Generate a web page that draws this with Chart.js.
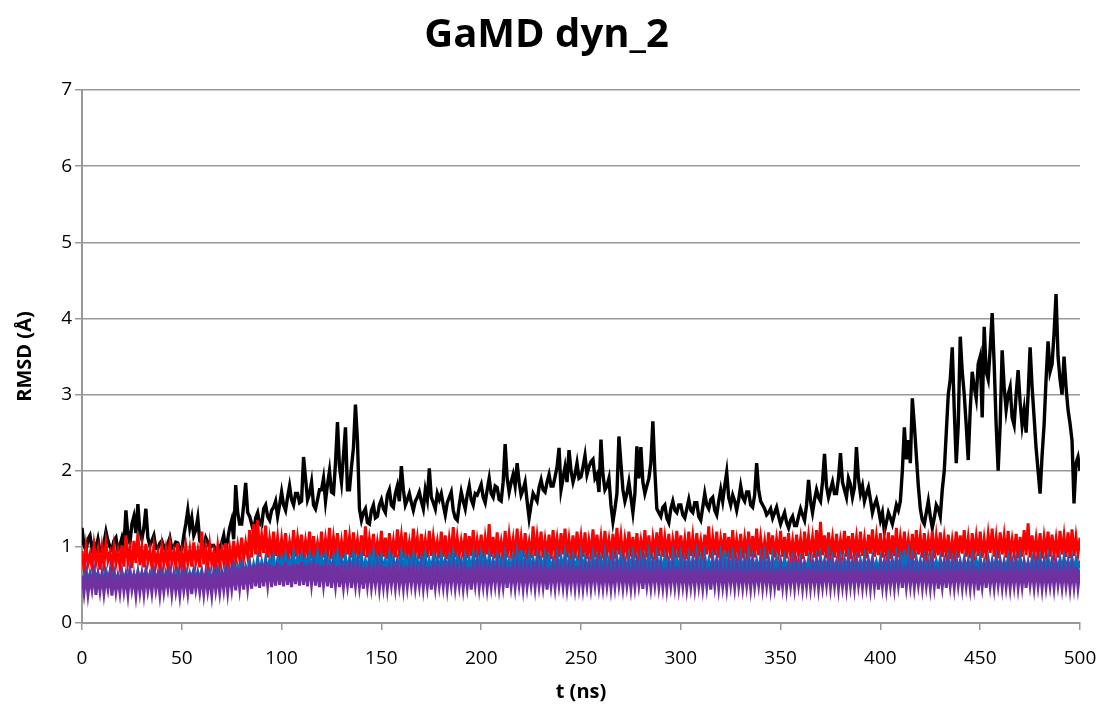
<!DOCTYPE html>
<html>
<head>
<meta charset="utf-8">
<title>GaMD dyn_2</title>
<script src="https://cdn.jsdelivr.net/npm/chart.js@4.4.1/dist/chart.umd.min.js"></script>
<style>
  html, body { margin: 0; padding: 0; background: #fff; }
  #wrap { width: 1102px; height: 709px; }
</style>
</head>
<body>
<div id="wrap"><canvas id="rmsdChart" width="1102" height="709"></canvas></div>
<script>
// RMSD traces (Å), one frame per ns from 0 to 500 ns
const rmsdBlack = [
  1.25, 1.02, 0.95, 1.10, 1.15, 0.98, 1.05, 0.98, 1.10, 0.94,
  0.92, 1.05, 1.20, 1.08, 1.00, 0.96, 1.08, 1.12, 0.95, 1.02,
  1.12, 1.00, 1.48, 1.15, 1.05, 1.30, 1.40, 1.18, 1.56, 1.20,
  1.10, 1.25, 1.50, 1.12, 1.02, 1.08, 1.15, 0.98, 0.98, 1.05,
  1.08, 1.00, 0.95, 1.04, 1.12, 0.98, 1.00, 1.06, 1.05, 0.96,
  0.96, 1.15, 1.30, 1.48, 1.25, 1.38, 1.15, 1.22, 1.38, 1.08,
  1.05, 1.00, 1.12, 1.06, 0.98, 1.02, 1.02, 0.94, 0.92, 1.00,
  1.05, 1.15, 0.95, 1.10, 1.25, 1.35, 1.10, 1.81, 1.45, 1.30,
  1.30, 1.55, 1.84, 1.45, 1.40, 1.30, 1.20, 1.38, 1.45, 1.30,
  1.28, 1.50, 1.55, 1.40, 1.35, 1.48, 1.52, 1.60, 1.40, 1.55,
  1.72, 1.55, 1.48, 1.65, 1.80, 1.62, 1.55, 1.70, 1.70, 1.58,
  1.60, 2.18, 1.90, 1.62, 1.70, 1.85, 1.55, 1.50, 1.62, 1.75,
  1.75, 1.90, 1.60, 1.82, 2.00, 1.72, 1.70, 2.10, 2.64, 2.05,
  1.85, 2.20, 2.57, 1.75, 1.75, 2.05, 2.30, 2.87, 2.40, 1.50,
  1.35, 1.45, 1.50, 1.32, 1.30, 1.48, 1.55, 1.38, 1.40, 1.55,
  1.62, 1.50, 1.45, 1.68, 1.75, 1.55, 1.52, 1.70, 1.80, 1.60,
  2.06, 1.75, 1.55, 1.62, 1.70, 1.58, 1.48, 1.60, 1.65, 1.72,
  1.60, 1.50, 1.75, 1.62, 2.03, 1.65, 1.58, 1.50, 1.70, 1.62,
  1.70, 1.55, 1.42, 1.58, 1.65, 1.72, 1.48, 1.38, 1.35, 1.55,
  1.72, 1.60, 1.50, 1.68, 1.80, 1.62, 1.55, 1.70, 1.68, 1.75,
  1.82, 1.65, 1.58, 1.75, 1.90, 1.70, 1.65, 1.80, 1.78, 1.62,
  1.60, 1.85, 2.35, 1.90, 1.72, 1.85, 1.95, 1.80, 2.10, 1.85,
  1.68, 1.75, 1.85, 1.60, 1.38, 1.55, 1.70, 1.65, 1.60, 1.78,
  1.88, 1.75, 1.72, 1.85, 1.95, 1.80, 1.80, 1.92, 2.05, 2.30,
  1.75, 1.90, 2.05, 1.85, 2.27, 2.00, 1.85, 1.95, 2.10, 1.90,
  1.92, 2.05, 2.20, 1.95, 2.05, 2.12, 2.15, 1.90, 1.95, 1.72,
  2.41, 1.95, 1.75, 1.80, 1.90, 1.55, 1.33, 1.50, 1.70, 2.45,
  2.10, 1.75, 1.60, 1.70, 1.85, 1.65, 1.45, 1.70, 2.32, 1.90,
  2.31, 1.85, 1.70, 1.80, 1.90, 2.10, 2.65, 2.00, 1.50, 1.45,
  1.40, 1.52, 1.55, 1.38, 1.32, 1.50, 1.60, 1.48, 1.45, 1.55,
  1.55, 1.42, 1.38, 1.50, 1.62, 1.48, 1.45, 1.58, 1.58, 1.40,
  1.35, 1.52, 1.70, 1.55, 1.50, 1.62, 1.65, 1.48, 1.42, 1.60,
  1.75, 1.60, 1.80, 1.98, 1.65, 1.55, 1.68, 1.60, 1.48, 1.62,
  1.80, 1.65, 1.60, 1.72, 1.72, 1.55, 1.52, 1.68, 2.10, 1.75,
  1.60, 1.55, 1.50, 1.42, 1.45, 1.50, 1.38, 1.45, 1.52, 1.40,
  1.30, 1.38, 1.45, 1.32, 1.25, 1.35, 1.40, 1.28, 1.28, 1.40,
  1.50, 1.42, 1.35, 1.55, 1.88, 1.60, 1.45, 1.62, 1.75, 1.65,
  1.60, 1.85, 2.22, 1.80, 1.65, 1.75, 1.85, 1.70, 1.70, 1.90,
  2.23, 1.85, 1.75, 1.65, 1.90, 1.82, 1.65, 1.78, 2.31, 1.90,
  1.70, 1.80, 1.60, 1.70, 1.78, 1.62, 1.45, 1.55, 1.62, 1.50,
  1.35, 1.45, 1.20, 1.32, 1.45, 1.38, 1.30, 1.42, 1.55, 1.48,
  1.60, 2.00, 2.57, 2.15, 2.40, 2.10, 2.95, 2.60, 2.20, 1.80,
  1.50, 1.35, 1.30, 1.45, 1.60, 1.40, 1.25, 1.38, 1.55, 1.50,
  1.40, 1.75, 2.00, 2.50, 3.00, 3.20, 3.62, 2.80, 2.10, 2.60,
  3.76, 3.30, 3.00, 2.60, 2.14, 2.80, 3.30, 3.10, 2.95, 3.40,
  3.50, 2.70, 3.89, 3.30, 3.20, 3.60, 4.07, 3.40, 2.60, 2.00,
  2.60, 3.58, 3.10, 2.80, 3.00, 3.10, 2.70, 2.60, 3.00, 3.32,
  2.90, 2.60, 2.80, 2.50, 3.00, 3.62, 3.10, 2.70, 2.30, 2.00,
  1.70, 2.20, 2.60, 3.20, 3.70, 3.30, 3.40, 3.80, 4.32, 3.50,
  3.20, 3.00, 3.50, 3.10, 2.80, 2.62, 2.40, 1.57, 2.10, 2.18,
  2.00
];

const rmsdRed = [
  0.95, 0.72, 1.00, 0.78, 0.90, 0.74, 1.02, 0.80, 0.96, 0.70,
  0.98, 0.76, 1.05, 0.82, 0.92, 0.73, 1.00, 0.78, 0.94, 0.75,
  1.02, 0.74, 1.15, 0.80, 0.97, 0.72, 1.08, 0.79, 1.18, 0.76,
  0.99, 0.73, 1.04, 0.81, 0.95, 0.74, 1.00, 0.77, 0.92, 0.72,
  1.00, 0.78, 0.96, 0.73, 1.03, 0.80, 0.94, 0.75, 1.05, 0.76,
  0.93, 0.72, 1.01, 0.79, 0.97, 0.74, 1.06, 0.80, 0.95, 0.73,
  1.20, 0.77, 0.98, 0.74, 1.02, 0.79, 0.93, 0.72, 1.00, 0.76,
  0.96, 0.80, 1.05, 0.75, 0.98, 0.78, 1.08, 0.82, 1.02, 0.84,
  1.12, 0.85, 1.05, 0.88, 1.22, 0.86, 1.30, 0.90, 1.35, 0.87,
  1.15, 0.92, 1.28, 0.86, 1.10, 0.90, 1.20, 0.88, 1.12, 0.85,
  1.10, 0.88, 1.18, 0.85, 1.06, 0.90, 1.22, 0.87, 1.12, 0.92,
  1.16, 0.86, 1.08, 0.91, 1.20, 0.84, 1.14, 0.89, 1.05, 0.87,
  1.20, 0.86, 1.10, 0.90, 1.25, 0.84, 1.12, 0.92, 1.18, 0.88,
  1.07, 0.85, 1.22, 0.90, 1.13, 0.86, 1.19, 0.92, 1.09, 0.84,
  1.15, 0.88, 1.27, 0.86, 1.10, 0.91, 1.17, 0.85, 1.06, 0.89,
  1.21, 0.87, 1.12, 0.84, 1.18, 0.90, 1.08, 0.86, 1.23, 0.92,
  1.14, 0.85, 1.19, 0.89, 1.06, 0.87, 1.24, 0.91, 1.11, 0.84,
  1.17, 0.90, 1.09, 0.86, 1.21, 0.88, 1.13, 0.92, 1.07, 0.85,
  1.20, 0.87, 1.15, 0.84, 1.10, 0.90, 1.26, 0.86, 1.12, 0.89,
  1.08, 0.91, 1.18, 0.85, 1.14, 0.88, 1.22, 0.86, 1.09, 0.92,
  1.16, 0.84, 1.11, 0.90, 1.30, 0.87, 1.13, 0.85, 1.19, 0.91,
  1.07, 0.88, 1.21, 0.86, 1.15, 0.92, 1.10, 0.84, 1.24, 0.89,
  1.12, 0.87, 1.18, 0.90, 1.06, 0.85, 1.27, 0.88, 1.14, 0.91,
  1.20, 0.86, 1.09, 0.89, 1.16, 0.84, 1.22, 0.92, 1.11, 0.87,
  1.18, 0.90, 1.24, 0.86, 1.10, 0.88, 1.15, 0.85, 1.20, 0.91,
  1.13, 0.87, 1.19, 0.84, 1.08, 0.90, 1.23, 0.86, 1.16, 0.89,
  1.12, 0.85, 1.21, 0.91, 1.09, 0.88, 1.17, 0.84, 1.25, 0.90,
  1.14, 0.86, 1.10, 0.92, 1.20, 0.87, 1.13, 0.85, 1.18, 0.89,
  1.08, 0.90, 1.22, 0.86, 1.15, 0.84, 1.11, 0.91, 1.19, 0.88,
  1.25, 0.87, 1.12, 0.90, 1.17, 0.85, 1.09, 0.92, 1.21, 0.86,
  1.15, 0.89, 1.10, 0.84, 1.20, 0.88, 1.13, 0.86, 1.18, 0.91,
  1.08, 0.87, 1.16, 0.90, 1.27, 0.85, 1.12, 0.89, 1.20, 0.86,
  1.10, 0.92, 1.18, 0.86, 1.13, 0.84, 1.22, 0.88, 1.09, 0.90,
  1.17, 0.85, 1.11, 0.91, 1.20, 0.87, 1.14, 0.86, 1.24, 0.89,
  1.12, 0.88, 1.07, 0.84, 1.19, 0.90, 1.15, 0.86, 1.10, 0.92,
  1.21, 0.87, 1.13, 0.85, 1.18, 0.89, 1.08, 0.86, 1.16, 0.90,
  1.10, 0.84, 1.20, 0.88, 1.14, 0.91, 1.12, 0.86, 1.22, 0.87,
  1.33, 0.89, 1.15, 0.85, 1.19, 0.90, 1.11, 0.86, 1.17, 0.88,
  1.09, 0.92, 1.21, 0.87, 1.14, 0.84, 1.18, 0.90, 1.12, 0.86,
  1.20, 0.88, 1.10, 0.85, 1.16, 0.91, 1.23, 0.87, 1.13, 0.89,
  1.18, 0.86, 1.11, 0.90, 1.19, 0.84, 1.15, 0.88, 1.25, 0.86,
  1.12, 0.91, 1.20, 0.87, 1.09, 0.89, 1.17, 0.85, 1.22, 0.90,
  1.14, 0.86, 1.18, 0.88, 1.10, 0.92, 1.21, 0.85, 1.13, 0.89,
  1.19, 0.87, 1.12, 0.90, 1.16, 0.84, 1.08, 0.88, 1.20, 0.86,
  1.15, 0.91, 1.22, 0.87, 1.11, 0.85, 1.18, 0.90, 1.13, 0.88,
  1.20, 0.86, 1.10, 0.89, 1.16, 0.92, 1.24, 0.87, 1.12, 0.85,
  1.19, 0.90, 1.14, 0.86, 1.21, 0.88, 1.09, 0.91, 1.17, 0.85,
  1.13, 0.87, 1.22, 0.89, 1.31, 0.86, 1.15, 0.90, 1.11, 0.88,
  1.18, 0.85, 1.12, 0.91, 1.20, 0.87, 1.16, 0.89, 1.10, 0.86,
  1.21, 0.90, 1.14, 0.87, 1.19, 0.85, 1.23, 0.88, 1.13, 0.91,
  1.12
];

const rmsdBlue = [
  0.62, 0.55, 0.68, 0.57, 0.65, 0.54, 0.70, 0.58, 0.66, 0.56,
  0.64, 0.55, 0.69, 0.58, 0.66, 0.54, 0.68, 0.57, 0.63, 0.55,
  0.67, 0.56, 0.65, 0.58, 0.70, 0.55, 0.64, 0.57, 0.68, 0.56,
  0.66, 0.58, 0.69, 0.55, 0.65, 0.57, 0.70, 0.58, 0.64, 0.56,
  0.68, 0.55, 0.66, 0.57, 0.70, 0.56, 0.64, 0.58, 0.69, 0.55,
  0.65, 0.57, 0.68, 0.56, 0.66, 0.58, 0.70, 0.55, 0.67, 0.57,
  0.69, 0.56, 0.64, 0.58, 0.68, 0.55, 0.66, 0.57, 0.70, 0.56,
  0.67, 0.58, 0.72, 0.60, 0.70, 0.62, 0.76, 0.60, 0.74, 0.63,
  0.78, 0.62, 0.74, 0.64, 0.80, 0.63, 0.77, 0.65, 0.85, 0.66,
  0.80, 0.65, 0.84, 0.67, 0.82, 0.66, 0.86, 0.68, 0.83, 0.67,
  0.84, 0.68, 0.88, 0.70, 0.82, 0.67, 0.90, 0.69, 0.85, 0.70,
  0.87, 0.66, 0.83, 0.71, 0.89, 0.68, 0.84, 0.67, 0.91, 0.70,
  0.85, 0.69, 0.88, 0.66, 0.82, 0.70, 0.86, 0.68, 0.90, 0.67,
  0.83, 0.70, 0.87, 0.68, 0.84, 0.66, 0.89, 0.71, 0.85, 0.69,
  0.88, 0.67, 0.82, 0.70, 0.86, 0.68, 0.91, 0.66, 0.84, 0.69,
  0.87, 0.70, 0.83, 0.67, 0.89, 0.69, 0.85, 0.71, 0.82, 0.68,
  0.90, 0.66, 0.86, 0.70, 0.84, 0.68, 0.88, 0.67, 0.83, 0.70,
  0.85, 0.69, 0.89, 0.66, 0.82, 0.70, 0.87, 0.68, 0.84, 0.67,
  0.88, 0.70, 0.83, 0.68, 0.86, 0.66, 0.90, 0.69, 0.85, 0.71,
  0.82, 0.67, 0.87, 0.70, 0.84, 0.68, 0.89, 0.66, 0.86, 0.69,
  0.90, 0.68, 0.85, 0.70, 0.88, 0.67, 0.83, 0.69, 0.87, 0.70,
  0.84, 0.66, 0.89, 0.71, 0.82, 0.68, 0.86, 0.67, 0.91, 0.70,
  0.96, 0.69, 0.85, 0.67, 0.88, 0.70, 0.84, 0.68, 0.87, 0.66,
  0.83, 0.70, 0.89, 0.68, 0.85, 0.69, 0.82, 0.67, 0.88, 0.70,
  0.86, 0.68, 0.90, 0.66, 0.84, 0.70, 0.87, 0.69, 0.83, 0.67,
  0.89, 0.70, 0.85, 0.68, 0.82, 0.66, 0.88, 0.71, 0.86, 0.69,
  0.84, 0.67, 0.90, 0.70, 0.83, 0.68, 0.87, 0.66, 0.85, 0.70,
  0.88, 0.69, 0.82, 0.67, 0.86, 0.70, 0.89, 0.68, 0.84, 0.66,
  0.87, 0.70, 0.85, 0.68, 0.90, 0.69, 0.83, 0.67, 0.88, 0.70,
  0.84, 0.66, 0.86, 0.71, 0.82, 0.68, 0.89, 0.70, 0.85, 0.67,
  0.88, 0.69, 0.83, 0.70, 0.87, 0.66, 0.84, 0.68, 0.90, 0.70,
  0.85, 0.67, 0.88, 0.69, 0.82, 0.70, 0.86, 0.68, 0.84, 0.66,
  0.89, 0.70, 0.95, 0.67, 0.85, 0.69, 0.88, 0.70, 0.83, 0.68,
  0.87, 0.66, 0.84, 0.70, 0.90, 0.68, 0.85, 0.69, 0.82, 0.67,
  0.86, 0.70, 0.89, 0.68, 0.83, 0.66, 0.87, 0.70, 0.84, 0.69,
  0.82, 0.68, 0.85, 0.70, 0.80, 0.67, 0.84, 0.69, 0.81, 0.70,
  0.83, 0.68, 0.80, 0.70, 0.84, 0.67, 0.82, 0.69, 0.85, 0.68,
  0.86, 0.70, 0.82, 0.68, 0.88, 0.66, 0.84, 0.70, 0.80, 0.69,
  0.85, 0.67, 0.83, 0.70, 0.87, 0.68, 0.81, 0.69, 0.84, 0.70,
  0.82, 0.68, 0.86, 0.67, 0.83, 0.70, 0.85, 0.69, 0.80, 0.68,
  0.84, 0.70, 0.82, 0.67, 0.86, 0.69, 0.83, 0.68, 0.88, 0.70,
  0.85, 0.68, 0.96, 0.70, 0.90, 0.67, 0.86, 0.69, 0.84, 0.70,
  0.82, 0.68, 0.85, 0.70, 0.83, 0.67, 0.86, 0.69, 0.81, 0.70,
  0.84, 0.68, 0.82, 0.70, 0.86, 0.67, 0.83, 0.69, 0.85, 0.70,
  0.81, 0.68, 0.84, 0.70, 0.82, 0.67, 0.86, 0.69, 0.83, 0.70,
  0.85, 0.68, 0.80, 0.70, 0.84, 0.67, 0.82, 0.69, 0.86, 0.70,
  0.83, 0.68, 0.81, 0.70, 0.85, 0.67, 0.82, 0.69, 0.84, 0.70,
  0.86, 0.68, 0.82, 0.70, 0.80, 0.67, 0.84, 0.69, 0.83, 0.70,
  0.85, 0.68, 0.82, 0.70, 0.86, 0.67, 0.83, 0.69, 0.81, 0.70,
  0.84, 0.68, 0.86, 0.70, 0.82, 0.67, 0.85, 0.69, 0.83, 0.70,
  0.82
];

const rmsdPurple = [
  0.62, 0.40, 0.65, 0.38, 0.60, 0.44, 0.66, 0.37, 0.62, 0.42,
  0.64, 0.39, 0.61, 0.45, 0.66, 0.36, 0.63, 0.41, 0.60, 0.40,
  0.65, 0.42, 0.62, 0.38, 0.66, 0.44, 0.61, 0.37, 0.64, 0.41,
  0.63, 0.39, 0.66, 0.43, 0.60, 0.40, 0.65, 0.44, 0.62, 0.38,
  0.64, 0.41, 0.61, 0.45, 0.66, 0.39, 0.63, 0.42, 0.60, 0.37,
  0.65, 0.43, 0.62, 0.40, 0.66, 0.38, 0.64, 0.44, 0.61, 0.41,
  0.63, 0.39, 0.65, 0.42, 0.60, 0.37, 0.66, 0.43, 0.62, 0.40,
  0.64, 0.44, 0.68, 0.41, 0.66, 0.45, 0.70, 0.43, 0.72, 0.46,
  0.70, 0.44, 0.74, 0.47, 0.72, 0.45, 0.76, 0.48, 0.73, 0.46,
  0.78, 0.48, 0.74, 0.50, 0.77, 0.47, 0.75, 0.49, 0.79, 0.50,
  0.76, 0.48, 0.80, 0.50, 0.75, 0.47, 0.78, 0.51, 0.77, 0.49,
  0.80, 0.50, 0.76, 0.48, 0.79, 0.51, 0.75, 0.49, 0.78, 0.47,
  0.76, 0.50, 0.74, 0.48, 0.77, 0.46, 0.73, 0.49, 0.75, 0.47,
  0.72, 0.47, 0.70, 0.50, 0.74, 0.46, 0.71, 0.49, 0.73, 0.48,
  0.70, 0.45, 0.74, 0.49, 0.72, 0.47, 0.69, 0.50, 0.73, 0.46,
  0.71, 0.48, 0.74, 0.46, 0.70, 0.50, 0.72, 0.47, 0.73, 0.49,
  0.70, 0.46, 0.74, 0.48, 0.71, 0.50, 0.72, 0.47, 0.69, 0.49,
  0.73, 0.46, 0.70, 0.48, 0.74, 0.44, 0.71, 0.47, 0.72, 0.49,
  0.70, 0.48, 0.73, 0.46, 0.71, 0.50, 0.74, 0.47, 0.70, 0.49,
  0.72, 0.46, 0.70, 0.48, 0.73, 0.44, 0.71, 0.50, 0.74, 0.47,
  0.71, 0.49, 0.73, 0.46, 0.70, 0.48, 0.72, 0.50, 0.74, 0.47,
  0.70, 0.48, 0.72, 0.46, 0.74, 0.49, 0.71, 0.47, 0.73, 0.50,
  0.71, 0.46, 0.73, 0.48, 0.70, 0.50, 0.72, 0.47, 0.74, 0.49,
  0.70, 0.48, 0.72, 0.44, 0.73, 0.49, 0.71, 0.47, 0.74, 0.50,
  0.71, 0.48, 0.73, 0.46, 0.70, 0.49, 0.72, 0.47, 0.74, 0.48,
  0.72, 0.46, 0.70, 0.49, 0.73, 0.47, 0.71, 0.50, 0.74, 0.48,
  0.70, 0.47, 0.73, 0.49, 0.71, 0.46, 0.72, 0.48, 0.74, 0.50,
  0.71, 0.47, 0.73, 0.49, 0.70, 0.46, 0.72, 0.48, 0.74, 0.50,
  0.71, 0.45, 0.73, 0.49, 0.70, 0.47, 0.72, 0.50, 0.74, 0.48,
  0.70, 0.47, 0.73, 0.46, 0.71, 0.49, 0.72, 0.48, 0.74, 0.47,
  0.71, 0.49, 0.73, 0.46, 0.70, 0.48, 0.72, 0.47, 0.74, 0.49,
  0.70, 0.46, 0.72, 0.48, 0.73, 0.44, 0.71, 0.49, 0.74, 0.47,
  0.72, 0.48, 0.70, 0.46, 0.73, 0.50, 0.71, 0.47, 0.74, 0.49,
  0.70, 0.47, 0.72, 0.49, 0.71, 0.46, 0.73, 0.48, 0.70, 0.50,
  0.74, 0.47, 0.71, 0.49, 0.72, 0.46, 0.70, 0.48, 0.73, 0.43,
  0.71, 0.48, 0.74, 0.46, 0.70, 0.49, 0.72, 0.47, 0.73, 0.50,
  0.70, 0.46, 0.72, 0.48, 0.74, 0.47, 0.71, 0.49, 0.73, 0.46,
  0.70, 0.48, 0.72, 0.50, 0.74, 0.47, 0.71, 0.49, 0.73, 0.46,
  0.71, 0.48, 0.70, 0.46, 0.73, 0.49, 0.72, 0.47, 0.74, 0.50,
  0.70, 0.47, 0.72, 0.49, 0.71, 0.46, 0.73, 0.48, 0.74, 0.44,
  0.71, 0.48, 0.73, 0.46, 0.70, 0.49, 0.72, 0.47, 0.74, 0.50,
  0.72, 0.46, 0.75, 0.48, 0.71, 0.49, 0.73, 0.47, 0.70, 0.50,
  0.71, 0.47, 0.73, 0.49, 0.70, 0.46, 0.72, 0.48, 0.74, 0.45,
  0.70, 0.48, 0.72, 0.46, 0.73, 0.49, 0.71, 0.47, 0.74, 0.50,
  0.71, 0.47, 0.73, 0.49, 0.70, 0.46, 0.72, 0.48, 0.74, 0.43,
  0.70, 0.48, 0.72, 0.46, 0.73, 0.49, 0.71, 0.47, 0.74, 0.50,
  0.71, 0.47, 0.73, 0.48, 0.70, 0.46, 0.72, 0.49, 0.74, 0.47,
  0.70, 0.48, 0.72, 0.46, 0.73, 0.50, 0.71, 0.47, 0.74, 0.49,
  0.71, 0.46, 0.73, 0.48, 0.70, 0.49, 0.72, 0.47, 0.74, 0.50,
  0.70, 0.47, 0.72, 0.49, 0.71, 0.46, 0.73, 0.48, 0.74, 0.47,
  0.70
];

const timeStepNs = 1;
const xTicks = [0, 50, 100, 150, 200, 250, 300, 350, 400, 450, 500];
const yTicks = [0, 1, 2, 3, 4, 5, 6, 7];

const FONT = "'Open Sans', sans-serif";
const GRID = "#999999";

function toPoints(values) {
    return values.map((v, i) => ({ x: i * timeStepNs, y: v }));
}

function trace(label, values, color, width, order) {
    return {
        label: label,
        data: toPoints(values),
        borderColor: color,
        backgroundColor: color,
        borderWidth: width,
        pointRadius: 0,
        tension: 0,
        order: order
    };
}

document.addEventListener("DOMContentLoaded", function () {

    const ctx = document.getElementById("rmsdChart");

    new Chart(ctx, {
        type: "line",
        data: {
            datasets: [
                trace("black", rmsdBlack, "#000000", 3.4, 4),
                trace("red", rmsdRed, "#ff0000", 3, 3),
                trace("blue", rmsdBlue, "#0070c0", 3, 2),
                trace("purple", rmsdPurple, "#7030a0", 3, 1)
            ]
        },
        options: {
            responsive: false,
            animation: false,
            events: [],
            layout: { padding: { left: 13, right: 22, top: 0, bottom: 0 } },
            plugins: {
                legend: { display: false },
                tooltip: { enabled: false },
                title: {
                    display: true,
                    text: "GaMD dyn_2",
                    color: "#000",
                    font: { family: FONT, size: 40, weight: "bold" },
                    padding: { top: 12, bottom: 30 }
                }
            },
            scales: {
                x: {
                    type: "linear",
                    min: 0,
                    max: 500,
                    afterBuildTicks: function (scale) {
                        scale.ticks = xTicks.map(v => ({ value: v }));
                    },
                    afterFit: function (scale) {
                        // fixed band under the plot; the label overhang fits in the layout padding
                        scale.height = 86;
                        scale.paddingLeft = 0;
                        scale.paddingRight = 0;
                    },
                    ticks: {
                        color: "#000",
                        font: { family: FONT, size: 19 },
                        maxRotation: 0,
                        padding: 17
                    },
                    grid: {
                        drawOnChartArea: false,
                        drawTicks: true,
                        tickLength: 7,
                        color: GRID,
                        lineWidth: 1.5
                    },
                    border: { color: GRID, width: 2 },
                    title: {
                        display: true,
                        text: "t (ns)",
                        color: "#000",
                        font: { family: FONT, size: 20, weight: "bold" },
                        padding: { top: 0, bottom: 5 }
                    }
                },
                y: {
                    min: 0,
                    max: 7,
                    afterBuildTicks: function (scale) {
                        scale.ticks = yTicks.map(v => ({ value: v }));
                    },
                    afterFit: function (scale) {
                        scale.width = 69;
                    },
                    ticks: {
                        color: "#000",
                        font: { family: FONT, size: 19 },
                        padding: 3
                    },
                    grid: {
                        color: GRID,
                        lineWidth: 1.5,
                        tickLength: 7
                    },
                    border: { color: GRID, width: 2 },
                    title: {
                        display: true,
                        text: "RMSD (Å)",
                        color: "#000",
                        font: { family: FONT, size: 20, weight: "bold" },
                        padding: { top: 0, bottom: 0 }
                    }
                }
            }
        }
    });
});
</script>
</body>
</html>
